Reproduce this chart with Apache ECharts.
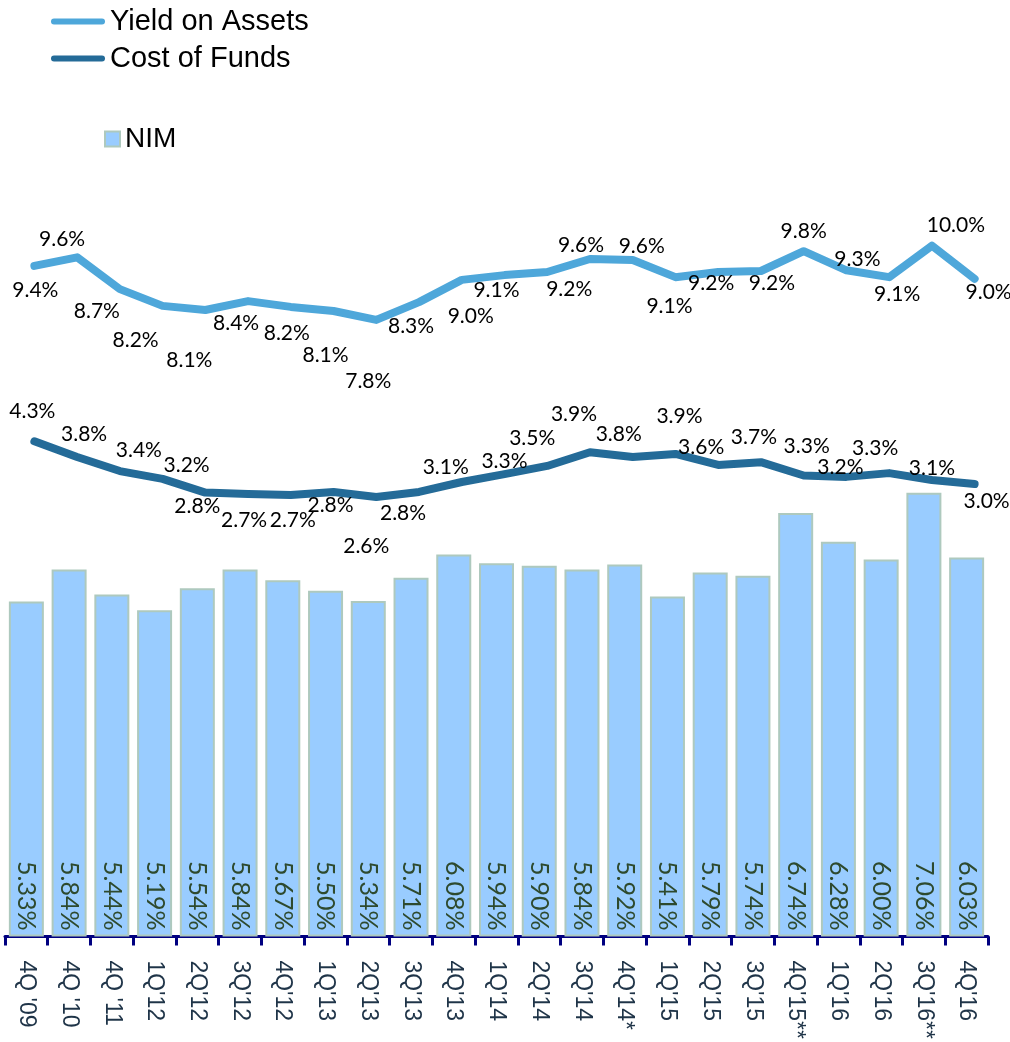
<!DOCTYPE html>
<html>
<head>
<meta charset="utf-8">
<script src="https://cdn.jsdelivr.net/npm/echarts@6/dist/echarts.min.js"></script>
<style>
  html, body { margin: 0; padding: 0; background: #fff; }
  #chart { width: 1010px; height: 1042px; }
</style>
</head>
<body>
<div id="chart"></div>
<script>
// quarters on the x axis
var quarters = ["4Q '09", "4Q '10", "4Q '11", "1Q'12", "2Q'12", "3Q'12", "4Q'12", "1Q'13", "2Q'13", "3Q'13", "4Q'13",
  "1Q'14", "2Q'14", "3Q'14", "4Q'14*", "1Q'15", "2Q'15", "3Q'15", "4Q'15**", "1Q'16", "2Q'16", "3Q'16**", "4Q'16"]

// NIM bars (%)
var nim = [5.33, 5.84, 5.44, 5.19, 5.54, 5.84, 5.67, 5.50, 5.34, 5.71, 6.08, 5.94, 5.90, 5.84, 5.92, 5.41, 5.79, 5.74, 6.74, 6.28, 6.00, 7.06, 6.03]

// yield on assets (%)
var yieldOnAssets = [9.39, 9.64, 8.71, 8.22, 8.10, 8.36, 8.19, 8.07, 7.81, 8.33, 8.98, 9.12, 9.21, 9.59, 9.56, 9.06, 9.21, 9.24, 9.82, 9.26, 9.06, 9.98, 9.01]

// cost of funds (%)
var costOfFunds = [4.26, 3.80, 3.39, 3.16, 2.76, 2.72, 2.69, 2.78, 2.63, 2.78, 3.07, 3.30, 3.54, 3.94, 3.80, 3.89, 3.57, 3.65, 3.26, 3.22, 3.33, 3.13, 3.01]

// where each point label sits, relative to the point (dx, dy)
var yieldLabelOffset = [[1, 24], [-15, -18], [-23, 22], [-27, 34], [-16, 50], [-12, 22], [-4, 26], [-8, 44], [-8, 61], [-8, 24], [9, 36],
  [-8, 15], [22, 17], [-9, -14], [9, -14], [-6, 29], [-7, 11], [11, 12], [0, -20], [11, -11], [8, 17], [24, -20], [14, 13]]
var costLabelOffset = [[-2, -30], [7, -23], [19, -21], [24, -14], [-8, 14], [-4, 26], [2, 25], [-3, 13], [-10, 49], [-16, 21], [-16, -15],
  [0, -13], [-15, -28], [-16, -38], [-14, -23], [4, -38], [-17, -18], [-7, -25], [3, -29], [-6, -10], [-14, -25], [0, -12], [12, 17]]

var yieldColor = '#4EA7DA'
var costColor = '#246B98'
var barColor = '#99CCFF'
var axisColor = '#000080'

function pct1 (v) { return (Math.round(v * 10) / 10).toFixed(1) + '%' }

function lineData (vals, offs) {
  var out = []
  for (var i = 0; i < vals.length; i++) {
    out.push({ value: vals[i], label: { offset: offs[i] } })
  }
  return out
}

var lineLabel = {
  show: true,
  position: 'inside',
  color: '#000',
  fontFamily: 'Lato',
  fontSize: 21,
  formatter: function (p) { return pct1(p.value) }
}

var myChart = echarts.init(document.getElementById('chart'))
myChart.setOption({
  animation: false,
  legend: [
    {
      orient: 'vertical',
      left: 46,
      top: 2,
      itemWidth: 54,
      itemHeight: 7,
      itemGap: 8,
      icon: 'path://M3,0 L51,0 A3,3 0 0 1 51,6 L3,6 A3,3 0 0 1 3,0 Z',
      textStyle: { fontFamily: 'Liberation Sans', fontSize: 29, color: '#000' },
      data: ['Yield on Assets', 'Cost of Funds']
    },
    {
      left: 99,
      top: 120,
      itemWidth: 15,
      itemHeight: 15,
      icon: 'rect',
      textStyle: { fontFamily: 'Liberation Sans', fontSize: 28, color: '#000' },
      data: ['NIM']
    }
  ],
  grid: [
    { left: 5, right: 22, top: 200, bottom: 105 },
    { left: 13, right: 14, top: 200, bottom: 105 }
  ],
  xAxis: [
    {
      type: 'category',
      gridIndex: 0,
      data: quarters,
      axisLine: { lineStyle: { color: axisColor, width: 3 } },
      axisTick: { show: true, length: 9, interval: 0, lineStyle: { color: axisColor, width: 3 } },
      axisLabel: { interval: 0, rotate: -90, margin: 24, fontFamily: 'Liberation Sans', fontSize: 23, color: '#1F3448' }
    },
    { type: 'category', gridIndex: 1, data: quarters, show: false }
  ],
  yAxis: [
    { type: 'value', gridIndex: 0, min: 0, max: 11.72, show: false, splitLine: { show: false } },
    { type: 'value', gridIndex: 1, min: -10.234, max: 11.316, show: false, splitLine: { show: false } }
  ],
  series: [
    {
      name: 'NIM',
      type: 'bar',
      xAxisIndex: 0,
      yAxisIndex: 0,
      barWidth: 35,
      data: nim,
      itemStyle: { color: barColor, borderColor: '#AEC9BE', borderWidth: 2 },
      label: {
        show: true,
        position: 'insideBottom',
        distance: 6,
        rotate: -90,
        align: 'right',
        verticalAlign: 'middle',
        fontFamily: 'Lato',
        fontSize: 25,
        color: '#2E4A2E',
        formatter: function (p) { return p.value.toFixed(2) + '%' }
      }
    },
    {
      name: 'Yield on Assets',
      type: 'line',
      xAxisIndex: 1,
      yAxisIndex: 1,
      symbol: 'circle',
      symbolSize: 1,
      color: yieldColor,
      lineStyle: { color: yieldColor, width: 8, cap: 'round', join: 'round' },
      label: lineLabel,
      data: lineData(yieldOnAssets, yieldLabelOffset)
    },
    {
      name: 'Cost of Funds',
      type: 'line',
      xAxisIndex: 1,
      yAxisIndex: 1,
      symbol: 'circle',
      symbolSize: 1,
      color: costColor,
      lineStyle: { color: costColor, width: 8, cap: 'round', join: 'round' },
      label: lineLabel,
      data: lineData(costOfFunds, costLabelOffset)
    }
  ]
})
</script>
</body>
</html>
